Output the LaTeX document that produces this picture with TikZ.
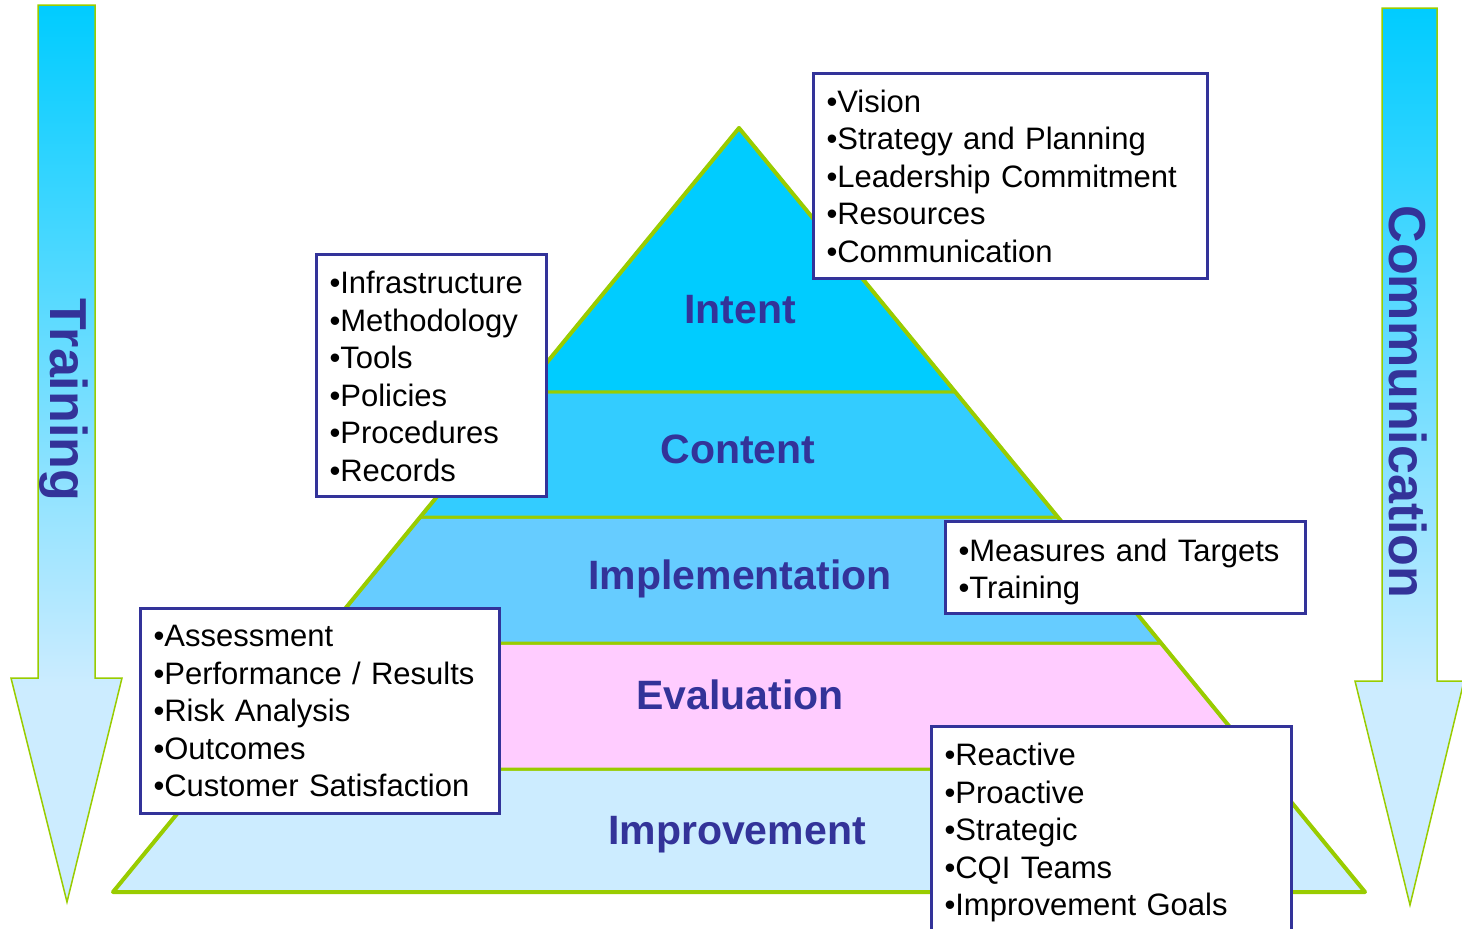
\documentclass[tikz,border=0pt]{standalone}
\usepackage{fontspec}
\setmainfont{Liberation Sans}
\usetikzlibrary{calc}
\definecolor{lg}{HTML}{99CC00}
\definecolor{nv}{HTML}{333399}
\definecolor{cA}{HTML}{00CCFF}
\definecolor{cB}{HTML}{33CCFF}
\definecolor{cC}{HTML}{66CCFF}
\definecolor{cD}{HTML}{FFCCFF}
\definecolor{cE}{HTML}{CCECFF}
\pgfdeclareverticalshading{arrowshade}{100bp}{color(0bp)=(cE); color(37bp)=(cE); color(75bp)=(cA); color(100bp)=(cA)}
\begin{document}
\begin{tikzpicture}[x=1pt,y=-1pt,
  layer/.style={draw=lg, line width=3pt, line join=round},
  lbl/.style={text=nv, font=\fontsize{41}{48}\selectfont\bfseries, inner sep=0pt},
  sidelbl/.style={text=nv, font=\fontsize{52}{60}\selectfont\bfseries, rotate=-90, inner sep=0pt},
  bigarrow/.style={draw=lg, line width=1.5pt, shading=arrowshade, line join=miter},
  infobox/.style={draw=nv, line width=3pt, fill=white, anchor=north west, align=left,
    inner xsep=13pt, inner ysep=0pt, font=\fontsize{31}{37.5}\selectfont}]
\useasboundingbox (0,0) rectangle (1462,929);
% side arrows
\path[bigarrow] (38,5) -- (95,5) -- (95,678) -- (122,678) -- (67,902) -- (11,678) -- (38,678) -- cycle;
\path[bigarrow] (1382,8) -- (1437,8) -- (1437,681) -- (1464,681) -- (1410,905) -- (1355,681) -- (1382,681) -- cycle;
\node[sidelbl] (training) at (64,400) {Training};
\node[sidelbl] (comm) at (1408,402) {Communication};
% pyramid
\coordinate (apex) at (739,128);
\coordinate (bl) at (113,892);
\coordinate (br) at (1365,892);
\coordinate (l1) at ($(apex)!0.3455!(bl)$); \coordinate (r1) at ($(apex)!0.3455!(br)$);
\coordinate (l2) at ($(apex)!0.5092!(bl)$); \coordinate (r2) at ($(apex)!0.5092!(br)$);
\coordinate (l3) at ($(apex)!0.6741!(bl)$); \coordinate (r3) at ($(apex)!0.6741!(br)$);
\coordinate (l4) at ($(apex)!0.8390!(bl)$); \coordinate (r4) at ($(apex)!0.8390!(br)$);
\draw[layer, fill=cE] (l4) -- (r4) -- (br) -- (bl) -- cycle;
\draw[layer, fill=cD] (l3) -- (r3) -- (r4) -- (l4) -- cycle;
\draw[layer, fill=cC] (l2) -- (r2) -- (r3) -- (l3) -- cycle;
\draw[layer, fill=cB] (l1) -- (r1) -- (r2) -- (l2) -- cycle;
\draw[layer, fill=cA] (apex) -- (r1) -- (l1) -- cycle;
\draw[draw=lg, line width=4pt, line join=round] (bl) -- (apex) -- (br) -- cycle;
\node[lbl] (intent) at (740,310) {Intent};
\node[lbl] (content) at (738,449) {Content};
\node[lbl] (impl) at (740,579) {Implementation};
\node[lbl] (eval) at (740,695) {Evaluation};
\node[lbl] (impr) at (737,835) {Improvement};
% boxes
\node[infobox, minimum width=394pt, minimum height=205pt, text width=368pt] (boxA) at (812,72)
  {•Vision\\•Strategy and Planning\\•Leadership Commitment\\•Resources\\•Communication};
\node[infobox, minimum width=230pt, minimum height=242pt, text width=204pt] (boxB) at (315,253)
  {\rule{0pt}{24pt}•Infrastructure\\•Methodology\\•Tools\\•Policies\\•Procedures\\•Records};
\node[infobox, minimum width=360pt, minimum height=92pt, text width=334pt] (boxC) at (944,520)
  {\rule{0pt}{31pt}•Measures and Targets\\•Training};
\node[infobox, minimum width=359pt, minimum height=205pt, text width=333pt] (boxD) at (139,607)
  {•Assessment\\•Performance / Results\\•Risk Analysis\\•Outcomes\\•Customer Satisfaction};
\node[infobox, minimum width=360pt, minimum height=208pt, text width=334pt] (boxE) at (930,725)
  {\rule{0pt}{27pt}•Reactive\\•Proactive\\•Strategic\\•CQI Teams\\•Improvement Goals};
\end{tikzpicture}
\end{document}
